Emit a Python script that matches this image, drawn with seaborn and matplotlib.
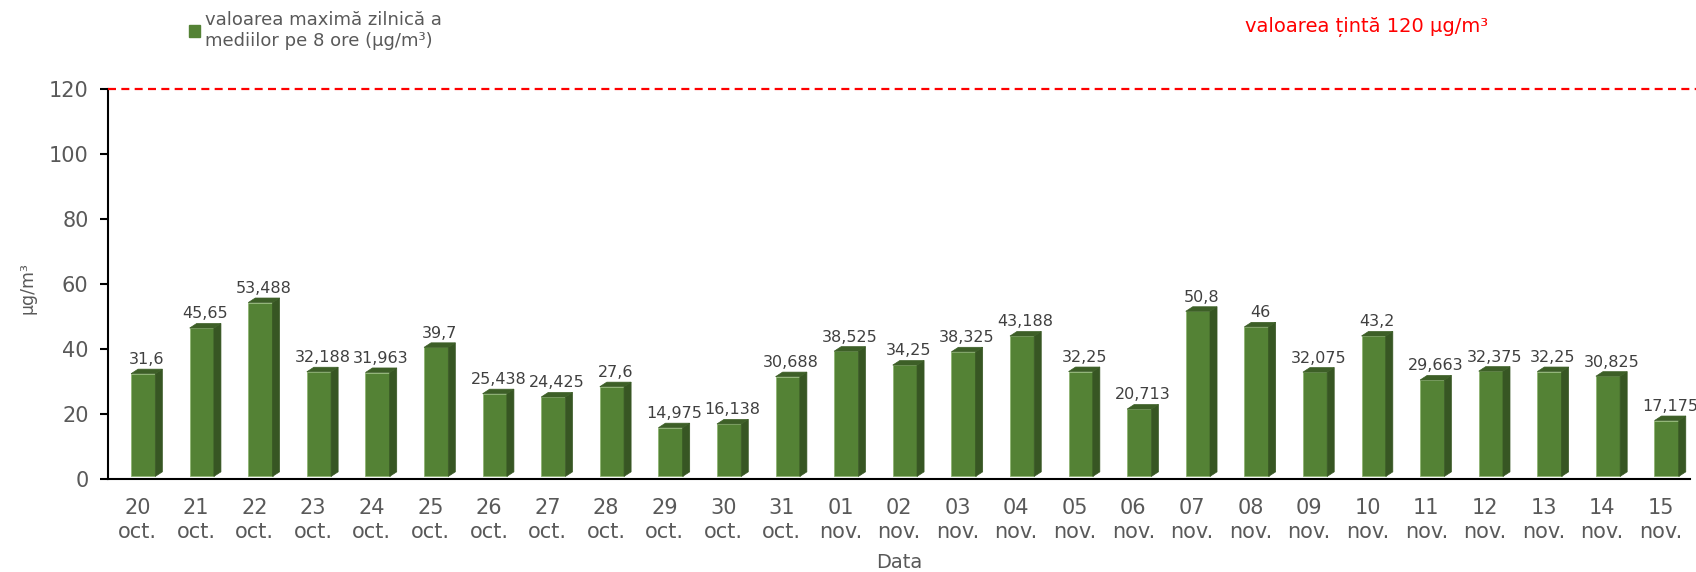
import matplotlib
matplotlib.use("Agg")
import matplotlib.pyplot as plt
from matplotlib.patches import Polygon, Patch
import seaborn as sns

sns.set_style("white")
plt.rcParams['font.family'] = ['DejaVu Sans']

days = ["20", "21", "22", "23", "24", "25", "26", "27", "28", "29", "30", "31",
        "01", "02", "03", "04", "05", "06", "07", "08", "09", "10", "11", "12",
        "13", "14", "15"]
months = ["oct."] * 12 + ["nov."] * 15
values = [31.6, 45.65, 53.488, 32.188, 31.963, 39.7, 25.438, 24.425, 27.6, 14.975,
          16.138, 30.688, 38.525, 34.25, 38.325, 43.188, 32.25, 20.713, 50.8, 46,
          32.075, 43.2, 29.663, 32.375, 32.25, 30.825, 17.175]
target = 120

labels = [f"{d}\n{m}" for d, m in zip(days, months)]

front = "#548235"
side = "#375623"
topc = "#3d5f27"
grey = "#595959"

fig = plt.figure(figsize=(16.96, 5.72), dpi=100)
ax = fig.add_axes([0.0637, 0.1626, 0.9328, 0.6818])

sns.barplot(x=labels, y=values, color=front, width=0.414, saturation=1,
            edgecolor="#8fb573", linewidth=0.6, ax=ax)

# fake 3D look: side and top faces on each bar
floor = 0.8
shift = 0.1
dx, dy = 0.12, 1.4
for p, v in zip(ax.patches, values):
    p.set_x(p.get_x() + shift)
    p.set_y(floor)
    x0, w = p.get_x(), p.get_width()
    top = floor + v
    ax.add_patch(Polygon([(x0 + w, floor), (x0 + w + dx, floor + dy),
                          (x0 + w + dx, top + dy), (x0 + w, top)],
                         closed=True, facecolor=side, edgecolor=side, lw=0.5))
    ax.add_patch(Polygon([(x0, top), (x0 + dx, top + dy),
                          (x0 + w + dx, top + dy), (x0 + w, top)],
                         closed=True, facecolor=topc, edgecolor=topc, lw=0.5))
    ax.annotate(f"{v:g}".replace(".", ","), (x0 + (w + dx) / 2, top + dy),
                xytext=(0, 1.5), textcoords="offset points", ha="center", va="bottom",
                fontsize=11.5, color="#404040")

ax.set_xlim(-0.5, len(values) - 0.5)
ax.set_ylim(0, 120)
ax.set_yticks(range(0, 121, 20))
ax.axhline(target, xmin=0, xmax=1.01, color="#ff0000", ls=(0, (3.6, 2.4)), lw=1.6,
           clip_on=False, zorder=5)

for s in ["top", "right"]:
    ax.spines[s].set_visible(False)
for s in ["left", "bottom"]:
    ax.spines[s].set_color("black")
    ax.spines[s].set_linewidth(1.5)

ax.set_xticks([i - 0.5 for i in range(len(values) + 1)], minor=True)
ax.tick_params(axis="x", which="major", length=0, labelsize=15, labelcolor=grey, pad=14)
ax.tick_params(axis="x", which="minor", length=6, width=1.5, color="black", direction="out")
ax.tick_params(axis="y", length=6, width=1.5, color="black", direction="out",
               left=True, labelsize=15, labelcolor=grey, pad=8)
for t in ax.get_xticklabels():
    t.set_linespacing(1.2)

ax.set_xlabel("Data", fontsize=14, color=grey, va="center")
ax.xaxis.set_label_coords(0.5, -0.215)
ax.set_ylabel("µg/m³", fontsize=12.5, color=grey, va="center")
ax.yaxis.set_label_coords(-0.051, 0.49)

ax.legend(handles=[Patch(color=front)],
          labels=["valoarea maximă zilnică a\nmediilor pe 8 ore (µg/m³)"],
          loc="upper left", bbox_to_anchor=(0.105, 1.0), bbox_transform=fig.transFigure,
          frameon=False, fontsize=13, handlelength=0.6, handleheight=0.6,
          handletextpad=0.3, labelcolor=grey, borderaxespad=0.2)

fig.text(0.734, 0.953, "valoarea țintă 120 µg/m³", color="#ff0000", fontsize=14,
         ha="left", va="center")

fig.savefig("out.png", dpi=100)
